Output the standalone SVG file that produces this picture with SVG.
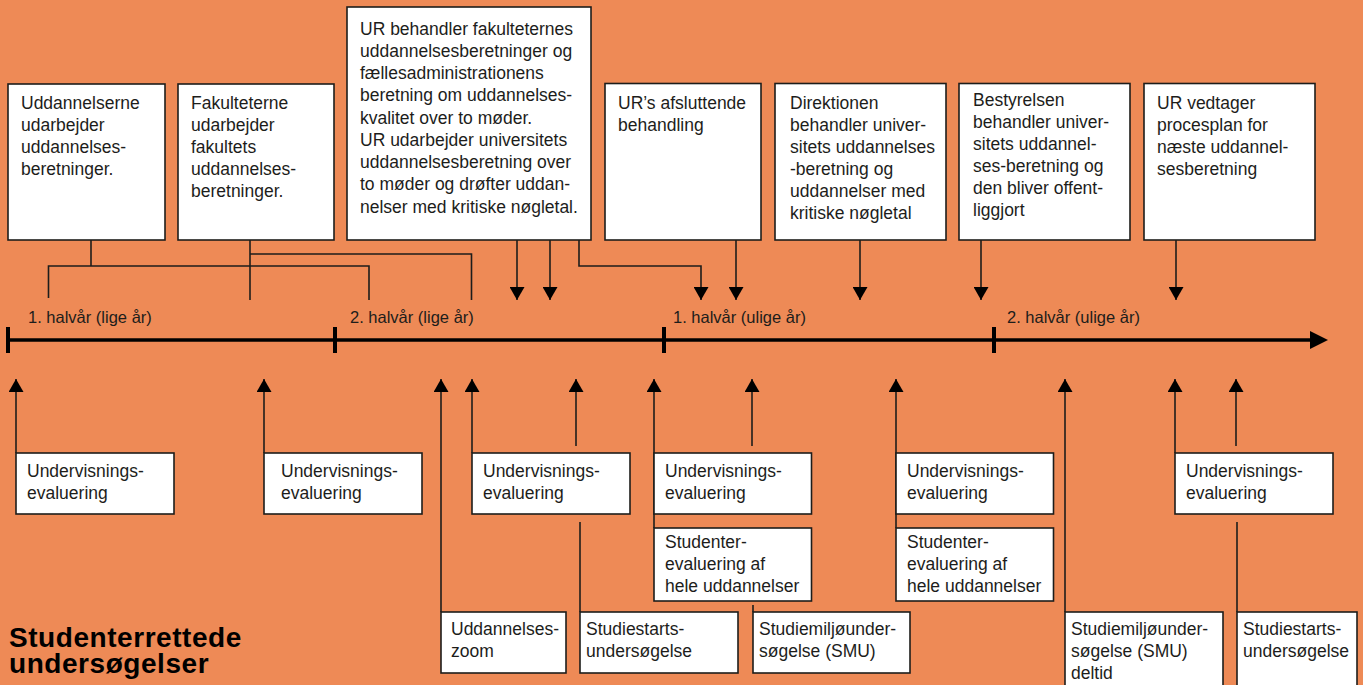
<svg xmlns="http://www.w3.org/2000/svg" width="1363" height="685" viewBox="0 0 1363 685">
<style>
.bg{fill:#EE8A56}
.box{fill:#fff;stroke:#1d1d1b;stroke-width:1.6}
.t{font-family:"Liberation Sans",Arial,sans-serif;font-size:17.5px;fill:#1d1d1b}
.lbl{font-family:"Liberation Sans",Arial,sans-serif;font-size:16.5px;fill:#1d1d1b}
.title{font-family:"Liberation Sans",Arial,sans-serif;font-size:28px;font-weight:bold;letter-spacing:0.55px;fill:#000}
.c{stroke:#1d1d1b;stroke-width:1.6;fill:none}
.ca{stroke:#1d1d1b;stroke-width:1.6;fill:none;marker-end:url(#ah)}
.axis{stroke:#000;stroke-width:3.6;fill:none}
.tick{stroke:#000;stroke-width:4;fill:none}
</style>
<defs>
<marker id="ah" viewBox="0 0 13 15" refX="13" refY="7.5" markerWidth="13" markerHeight="15" markerUnits="userSpaceOnUse" orient="auto">
<path d="M0,0 L13,7.5 L0,15 Z" fill="#000"/>
</marker>
</defs>
<rect class="bg" x="0" y="0" width="1363" height="685"/>

<g id="timeline">
<line class="axis" x1="8" y1="340" x2="1313" y2="340"/>
<polygon points="1310,331 1328,340 1310,349" fill="#000"/>
<line class="tick" x1="8" y1="327" x2="8" y2="353"/>
<line class="tick" x1="335" y1="327" x2="335" y2="353"/>
<line class="tick" x1="664" y1="327" x2="664" y2="353"/>
<line class="tick" x1="994" y1="327" x2="994" y2="353"/>
<text class="lbl" x="28" y="323">1. halvår (lige år)</text>
<text class="lbl" x="350" y="323">2. halvår (lige år)</text>
<text class="lbl" x="673" y="323">1. halvår (ulige år)</text>
<text class="lbl" x="1007" y="323">2. halvår (ulige år)</text>
</g>

<g id="connectors">
<polyline class="c" points="91,240 91,266"/>
<polyline class="c" points="48.5,298 48.5,266 369,266 369,300"/>
<polyline class="c" points="250,240 250,300"/>
<polyline class="c" points="250,254 471.5,254 471.5,300"/>
<line class="ca" x1="517" y1="240" x2="517" y2="300"/>
<line class="ca" x1="550" y1="240" x2="550" y2="300"/>
<polyline class="ca" points="579,240 579,266 701,266 701,300"/>
<line class="ca" x1="736" y1="240" x2="736" y2="300"/>
<line class="ca" x1="860" y1="240" x2="860" y2="300"/>
<line class="ca" x1="981" y1="240" x2="981" y2="300"/>
<line class="ca" x1="1176" y1="240" x2="1176" y2="300"/>

<line class="ca" x1="16" y1="453" x2="16" y2="379"/>
<line class="ca" x1="264" y1="453" x2="264" y2="379"/>
<line class="ca" x1="441" y1="612" x2="441" y2="379"/>
<line class="ca" x1="472" y1="453" x2="472" y2="379"/>
<line class="ca" x1="576" y1="446" x2="576" y2="379"/>
<line class="c" x1="580" y1="522" x2="580" y2="612"/>
<line class="ca" x1="654" y1="528" x2="654" y2="379"/>
<line class="ca" x1="752" y1="446" x2="752" y2="379"/>
<line class="c" x1="753" y1="605" x2="753" y2="612"/>
<line class="ca" x1="896" y1="528" x2="896" y2="379"/>
<line class="ca" x1="1065" y1="612" x2="1065" y2="379"/>
<line class="ca" x1="1175" y1="453" x2="1175" y2="379"/>
<line class="ca" x1="1236" y1="446" x2="1236" y2="379"/>
<line class="c" x1="1237" y1="522" x2="1237" y2="612"/>
</g>

<g id="n-uddannelserne">
<rect class="box" x="8" y="84" width="157" height="156"/>
<text class="t" y="109"><tspan x="21">Uddannelserne</tspan><tspan x="21" dy="22">udarbejder</tspan><tspan x="21" dy="22">uddannelses-</tspan><tspan x="21" dy="22">beretninger.</tspan></text>
</g>
<g id="n-fakulteterne">
<rect class="box" x="178" y="84" width="156" height="156"/>
<text class="t" y="109"><tspan x="191">Fakulteterne</tspan><tspan x="191" dy="22">udarbejder</tspan><tspan x="191" dy="22">fakultets</tspan><tspan x="191" dy="22">uddannelses-</tspan><tspan x="191" dy="22">beretninger.</tspan></text>
</g>
<g id="n-ur-behandler">
<rect class="box" x="347" y="7" width="244" height="233"/>
<text class="t" y="34.5"><tspan x="360">UR behandler fakulteternes</tspan><tspan x="360" dy="22.25">uddannelsesberetninger og</tspan><tspan x="360" dy="22.25">fællesadministrationens</tspan><tspan x="360" dy="22.25">beretning om uddannelses-</tspan><tspan x="360" dy="22.25">kvalitet over to møder.</tspan><tspan x="360" dy="22.25">UR udarbejder universitets</tspan><tspan x="360" dy="22.25">uddannelsesberetning over</tspan><tspan x="360" dy="22.25">to møder og drøfter uddan-</tspan><tspan x="360" dy="22.25">nelser med kritiske nøgletal.</tspan></text>
</g>
<g id="n-ur-afsluttende">
<rect class="box" x="605" y="83.5" width="156" height="156.5"/>
<text class="t" y="109"><tspan x="618">UR’s afsluttende</tspan><tspan x="618" dy="22">behandling</tspan></text>
</g>
<g id="n-direktionen">
<rect class="box" x="775" y="83.5" width="171" height="156.5"/>
<text class="t" y="109"><tspan x="790">Direktionen</tspan><tspan x="790" dy="22">behandler univer-</tspan><tspan x="790" dy="22">sitets uddannelses</tspan><tspan x="790" dy="22">-beretning og</tspan><tspan x="790" dy="22">uddannelser med</tspan><tspan x="790" dy="22">kritiske nøgletal</tspan></text>
</g>
<g id="n-bestyrelsen">
<rect class="box" x="959" y="83.5" width="171" height="156.5"/>
<text class="t" y="106"><tspan x="973">Bestyrelsen</tspan><tspan x="973" dy="22">behandler univer-</tspan><tspan x="973" dy="22">sitets uddannel-</tspan><tspan x="973" dy="22">ses-beretning og</tspan><tspan x="973" dy="22">den bliver offent-</tspan><tspan x="973" dy="22">liggjort</tspan></text>
</g>
<g id="n-ur-vedtager">
<rect class="box" x="1144" y="83.5" width="171" height="156.5"/>
<text class="t" y="109"><tspan x="1157">UR vedtager</tspan><tspan x="1157" dy="22">procesplan for</tspan><tspan x="1157" dy="22">næste uddannel-</tspan><tspan x="1157" dy="22">sesberetning</tspan></text>
</g>

<g id="n-ue1">
<rect class="box" x="16" y="453" width="158" height="61"/>
<text class="t" y="477"><tspan x="27">Undervisnings-</tspan><tspan x="27" dy="22">evaluering</tspan></text>
</g>
<g id="n-ue2">
<rect class="box" x="264" y="453" width="158" height="61"/>
<text class="t" y="477"><tspan x="281">Undervisnings-</tspan><tspan x="281" dy="22">evaluering</tspan></text>
</g>
<g id="n-ue3">
<rect class="box" x="472" y="453" width="158" height="61"/>
<text class="t" y="477"><tspan x="483">Undervisnings-</tspan><tspan x="483" dy="22">evaluering</tspan></text>
</g>
<g id="n-ue4">
<rect class="box" x="654" y="453" width="157.5" height="61"/>
<text class="t" y="477"><tspan x="665">Undervisnings-</tspan><tspan x="665" dy="22">evaluering</tspan></text>
</g>
<g id="n-ue5">
<rect class="box" x="896" y="453" width="157.5" height="61"/>
<text class="t" y="477"><tspan x="907">Undervisnings-</tspan><tspan x="907" dy="22">evaluering</tspan></text>
</g>
<g id="n-ue6">
<rect class="box" x="1175" y="453" width="158" height="61"/>
<text class="t" y="477"><tspan x="1186">Undervisnings-</tspan><tspan x="1186" dy="22">evaluering</tspan></text>
</g>
<g id="n-stud1">
<rect class="box" x="654" y="528" width="157.5" height="73"/>
<text class="t" y="548"><tspan x="665">Studenter-</tspan><tspan x="665" dy="22">evaluering af</tspan><tspan x="665" dy="22">hele uddannelser</tspan></text>
</g>
<g id="n-stud2">
<rect class="box" x="896" y="528" width="157.5" height="73"/>
<text class="t" y="548"><tspan x="907">Studenter-</tspan><tspan x="907" dy="22">evaluering af</tspan><tspan x="907" dy="22">hele uddannelser</tspan></text>
</g>
<g id="n-zoom">
<rect class="box" x="441" y="612" width="125" height="61"/>
<text class="t" y="635"><tspan x="451">Uddannelses-</tspan><tspan x="451" dy="22">zoom</tspan></text>
</g>
<g id="n-studiestart1">
<rect class="box" x="580" y="612" width="158" height="61"/>
<text class="t" y="635"><tspan x="586">Studiestarts-</tspan><tspan x="586" dy="22">undersøgelse</tspan></text>
</g>
<g id="n-smu">
<rect class="box" x="753" y="612" width="157" height="61"/>
<text class="t" y="635"><tspan x="759">Studiemiljøunder-</tspan><tspan x="759" dy="22">søgelse (SMU)</tspan></text>
</g>
<g id="n-smu-deltid">
<rect class="box" x="1065" y="612" width="158" height="90"/>
<text class="t" y="635"><tspan x="1071">Studiemiljøunder-</tspan><tspan x="1071" dy="22">søgelse (SMU)</tspan><tspan x="1071" dy="22">deltid</tspan></text>
</g>
<g id="n-studiestart2">
<rect class="box" x="1237" y="612" width="120" height="90"/>
<text class="t" y="635"><tspan x="1243">Studiestarts-</tspan><tspan x="1243" dy="22">undersøgelse</tspan></text>
</g>

<g id="title">
<text class="title" x="9" y="646.5">Studenterrettede</text>
<text class="title" x="9" y="672.5">undersøgelser</text>
</g>
</svg>
